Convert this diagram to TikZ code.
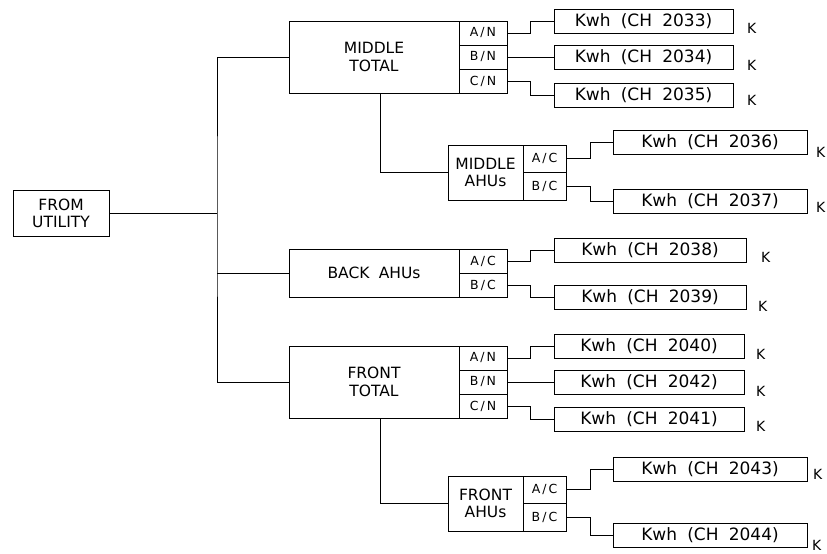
\documentclass[tikz,border=0pt]{standalone}
\usepackage{fontspec}
\setmainfont{DejaVu Sans}
\usepackage{tikz}
\usetikzlibrary{positioning}
\newcommand{\meterchan}[1]{Kwh\hspace{0.6em}(CH\hspace{0.6em}#1)}
\newcommand{\tap}[2]{#1\kern2pt/\kern2pt#2}

\begin{document}
\begin{tikzpicture}[
    x=1pt, y=-1pt,
    node distance=0pt,
    box/.style={rectangle, draw, line width=0.9pt, inner sep=0pt, outer sep=0pt, align=center},
    mainbox/.style={box, minimum width=170pt, font=\fontsize{15.5}{18}\selectfont},
    ahubox/.style={box, minimum width=75pt, minimum height=55pt, font=\fontsize{15.5}{17}\selectfont},
    tapbox/.style={box, minimum width=48pt, minimum height=24pt, font=\fontsize{12.5}{13}\selectfont},
    ahutap/.style={box, minimum width=43pt, minimum height=27.5pt, font=\fontsize{12.5}{13}\selectfont},
    meter/.style={box, minimum height=24pt, font=\fontsize{17}{18}\selectfont},
    klabel/.style={inner sep=0pt, font=\fontsize{14}{14}\selectfont},
    wire/.style={line width=0.9pt}
]
\useasboundingbox (0,0) rectangle (827,554);

% Source
\node[box, minimum width=96pt, minimum height=46pt, font=\fontsize{15.5}{17}\selectfont] (util) at (61,213) {FROM\\UTILITY};
\coordinate (bus) at (217,213);

% Middle total
\node[mainbox, minimum height=72pt] (midtot) at (374,57) {MIDDLE\\TOTAL};
\node[tapbox, anchor=north west] (midan) at (midtot.north east) {\tap{A}{N}};
\node[tapbox, below=of midan] (midbn) {\tap{B}{N}};
\node[tapbox, below=of midbn] (midcn) {\tap{C}{N}};

% Middle AHUs
\node[ahubox] (midahu) at (485.5,172.5) {MIDDLE\\AHUs};
\node[ahutap, anchor=north west] (midac) at (midahu.north east) {\tap{A}{C}};
\node[ahutap, below=of midac] (midbc) {\tap{B}{C}};

% Back AHUs
\node[mainbox, minimum height=48pt] (backahu) at (374,273) {BACK\hspace{0.6em}AHUs};
\node[tapbox, anchor=north west] (backac) at (backahu.north east) {\tap{A}{C}};
\node[tapbox, below=of backac] (backbc) {\tap{B}{C}};

% Front total
\node[mainbox, minimum height=72pt] (frotot) at (374,382) {FRONT\\TOTAL};
\node[tapbox, anchor=north west] (froan) at (frotot.north east) {\tap{A}{N}};
\node[tapbox, below=of froan] (frobn) {\tap{B}{N}};
\node[tapbox, below=of frobn] (frocn) {\tap{C}{N}};

% Front AHUs
\node[ahubox] (froahu) at (485.5,503.5) {FRONT\\AHUs};
\node[ahutap, anchor=north west] (froac) at (froahu.north east) {\tap{A}{C}};
\node[ahutap, below=of froac] (frobc) {\tap{B}{C}};

% Meters
\node[meter, minimum width=179pt] (k33) at (643.5,21.5) {\meterchan{2033}};
\node[meter, minimum width=179pt] (k34) at (643.5,57) {\meterchan{2034}};
\node[meter, minimum width=179pt] (k35) at (643.5,95) {\meterchan{2035}};
\node[meter, minimum width=194pt] (k36) at (710,142) {\meterchan{2036}};
\node[meter, minimum width=194pt] (k37) at (710,201.5) {\meterchan{2037}};
\node[meter, minimum width=192pt] (k38) at (650,250) {\meterchan{2038}};
\node[meter, minimum width=192pt] (k39) at (650,297) {\meterchan{2039}};
\node[meter, minimum width=190pt] (k40) at (649,346) {\meterchan{2040}};
\node[meter, minimum width=190pt] (k42) at (649,382) {\meterchan{2042}};
\node[meter, minimum width=190pt] (k41) at (649,419) {\meterchan{2041}};
\node[meter, minimum width=194pt] (k43) at (710,469) {\meterchan{2043}};
\node[meter, minimum width=194pt] (k44) at (710,535) {\meterchan{2044}};

% K marks
\node[klabel, right=14pt of k33, yshift=-6.5pt] (q33) {K};
\node[klabel, right=14pt of k34, yshift=-8pt] (q34) {K};
\node[klabel, right=14pt of k35, yshift=-5pt] (q35) {K};
\node[klabel, right=9pt of k36, yshift=-10pt] (q36) {K};
\node[klabel, right=9pt of k37, yshift=-6pt] (q37) {K};
\node[klabel, right=15pt of k38, yshift=-7pt] (q38) {K};
\node[klabel, right=12pt of k39, yshift=-9pt] (q39) {K};
\node[klabel, right=12pt of k40, yshift=-8pt] (q40) {K};
\node[klabel, right=12pt of k42, yshift=-9pt] (q42) {K};
\node[klabel, right=12pt of k41, yshift=-7pt] (q41) {K};
\node[klabel, right=6pt of k43, yshift=-5pt] (q43) {K};
\node[klabel, right=5pt of k44, yshift=-10pt] (q44) {K};

% Feeders
\draw[wire] (util) -- (bus);
\draw[wire] (midtot) -| (bus) |- (frotot);
\draw[wire] (bus |- backahu) -- (backahu);
\draw[wire] ([xshift=6pt]midtot.south) |- (midahu);
\draw[wire] ([xshift=6pt]frotot.south) |- (froahu);

% Taps to meters
\draw[wire] (midan.east) -- ++(23,0) |- (k33);
\draw[wire] (midbn) -- (k34);
\draw[wire] (midcn.east) -- ++(23,0) |- (k35);
\draw[wire] (midac.east) -- ++(24,0) |- (k36);
\draw[wire] (midbc.east) -- ++(24,0) |- (k37);
\draw[wire] (backac.east) -- ++(23,0) |- (k38);
\draw[wire] (backbc.east) -- ++(23,0) |- (k39);
\draw[wire] (froan.east) -- ++(23,0) |- (k40);
\draw[wire] (frobn) -- (k42);
\draw[wire] (frocn.east) -- ++(23,0) |- (k41);
\draw[wire] (froac.east) -- ++(24,0) |- (k43);
\draw[wire] (frobc.east) -- ++(24,0) |- (k44);

\end{tikzpicture}
\end{document}
